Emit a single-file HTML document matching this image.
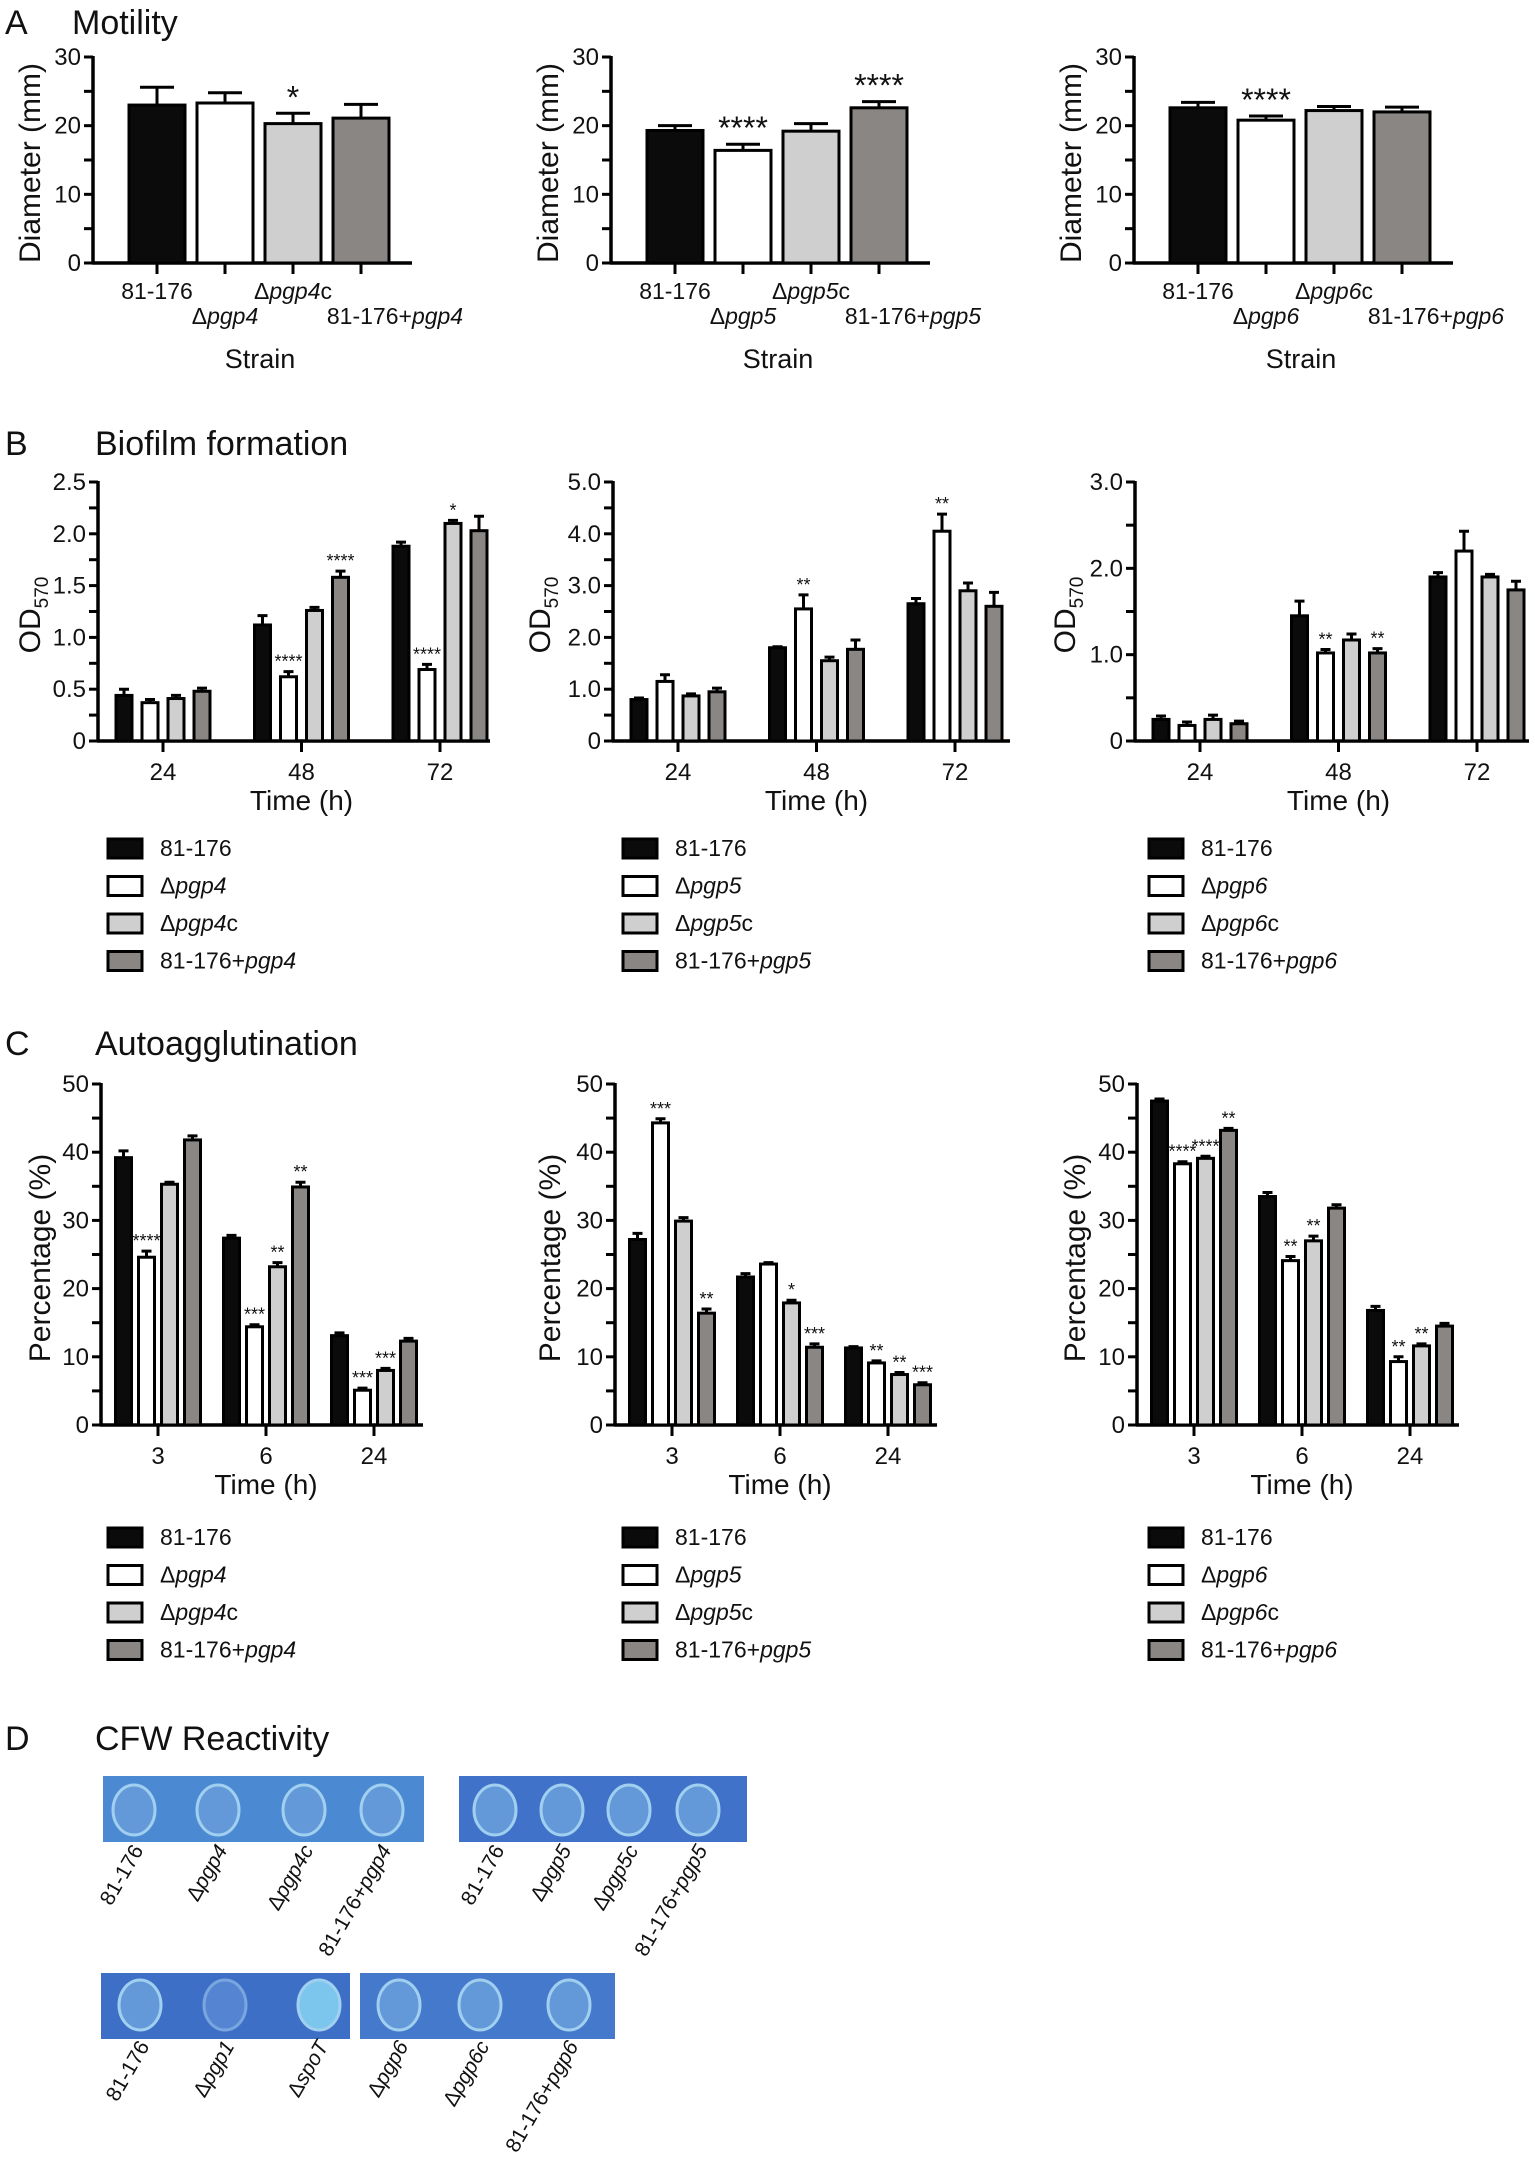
<!DOCTYPE html>
<html><head><meta charset="utf-8"><style>
html,body{margin:0;padding:0;background:#fff;}
svg{display:block;font-family:"Liberation Sans",Arial,sans-serif;}
</style></head><body>
<svg id="fig" width="1535" height="2157" viewBox="0 0 1535 2157" xmlns="http://www.w3.org/2000/svg">
<g>
  <rect x="103" y="1776" width="321" height="66" fill="#4b8ad3"/>
  <rect x="459" y="1776" width="288" height="66" fill="#3f72c8"/>
  <rect x="101" y="1973" width="249" height="66" fill="#3e6fc6"/>
  <rect x="360" y="1973" width="255" height="66" fill="#4579cb"/>
</g>
</svg>
<script>
// ---------- data ----------
const strain4 = ['81-176','Δ*pgp4*','Δ*pgp4*c','81-176+*pgp4*'];
const strain5 = ['81-176','Δ*pgp5*','Δ*pgp5*c','81-176+*pgp5*'];
const strain6 = ['81-176','Δ*pgp6*','Δ*pgp6*c','81-176+*pgp6*'];

const motility4Values = [23.0, 23.3, 20.3, 21.1];
const motility4Errors = [2.6, 1.5, 1.5, 2.0];
const motility4Sig = ['', '', '*', ''];
const motility5Values = [19.3, 16.4, 19.2, 22.6];
const motility5Errors = [0.7, 0.9, 1.1, 0.9];
const motility5Sig = ['', '****', '', '****'];
const motility6Values = [22.6, 20.8, 22.2, 22.0];
const motility6Errors = [0.8, 0.6, 0.6, 0.7];
const motility6Sig = ['', '****', '', ''];

const biofilmTimes = ['24','48','72'];
const biofilm4Values = [[0.44,0.37,0.41,0.48],[1.12,0.62,1.26,1.58],[1.88,0.69,2.10,2.03]];
const biofilm4Errors = [[0.06,0.03,0.03,0.03],[0.09,0.05,0.03,0.06],[0.04,0.05,0.03,0.14]];
const biofilm4Sig = [['','','',''],['','****','','****'],['','****','*','']];
const biofilm5Values = [[0.80,1.15,0.87,0.95],[1.80,2.55,1.55,1.77],[2.65,4.05,2.90,2.60]];
const biofilm5Errors = [[0.03,0.13,0.04,0.07],[0.02,0.27,0.07,0.18],[0.10,0.33,0.15,0.27]];
const biofilm5Sig = [['','','',''],['','**','',''],['','**','','']];
const biofilm6Values = [[0.25,0.18,0.25,0.20],[1.45,1.02,1.17,1.02],[1.90,2.20,1.90,1.75]];
const biofilm6Errors = [[0.04,0.04,0.05,0.03],[0.17,0.04,0.07,0.05],[0.05,0.23,0.03,0.10]];
const biofilm6Sig = [['','','',''],['','**','','**'],['','','','']];

const autoTimes = ['3','6','24'];
const auto4Values = [[39.2,24.6,35.3,41.8],[27.4,14.4,23.2,34.9],[13.1,5.1,8.0,12.3]];
const auto4Errors = [[1.0,0.9,0.3,0.6],[0.4,0.3,0.6,0.7],[0.4,0.3,0.3,0.4]];
const auto4Sig = [['','****','',''],['','***','**','**'],['','***','***','']];
const auto5Values = [[27.2,44.3,29.9,16.4],[21.7,23.6,17.9,11.4],[11.3,9.1,7.4,5.9]];
const auto5Errors = [[0.9,0.6,0.5,0.6],[0.5,0.2,0.4,0.5],[0.2,0.3,0.3,0.3]];
const auto5Sig = [['','***','','**'],['','','*','***'],['','**','**','***']];
const auto6Values = [[47.5,38.3,39.1,43.2],[33.5,24.1,27.0,31.8],[16.8,9.3,11.6,14.5]];
const auto6Errors = [[0.3,0.3,0.3,0.3],[0.6,0.6,0.7,0.5],[0.6,0.7,0.3,0.4]];
const auto6Sig = [['','****','****','**'],['','**','**',''],['','**','**','']];

const ticksA = ['0','10','20','30'];
const ticksB4 = ['0','0.5','1.0','1.5','2.0','2.5'];
const ticksB5 = ['0','1.0','2.0','3.0','4.0','5.0'];
const ticksB6 = ['0','1.0','2.0','3.0'];
const ticksC = ['0','10','20','30','40','50'];

// ---------- helpers ----------
const NS='http://www.w3.org/2000/svg';
const svg=document.getElementById('fig');
const FILLS=['#0b0b0b','#ffffff','#cfcfcf','#8a8683'];
function el(tag,attrs,parent){const e=document.createElementNS(NS,tag);for(const k in attrs)e.setAttribute(k,attrs[k]);(parent||svg).appendChild(e);return e;}
function richText(str,attrs,parent){
  const t=el('text',attrs,parent);
  str.split('*').forEach((s,i)=>{if(!s)return;const ts=document.createElementNS(NS,'tspan');if(i%2)ts.setAttribute('font-style','italic');ts.textContent=s;t.appendChild(ts);});
  return t;
}
function plainText(str,attrs,parent){const t=el('text',attrs,parent);t.textContent=str;return t;}

function yAxis(g,ax,y0,yTop,max,ticks,minorStep,fs){
  const ys=v=>y0-(v/max)*(y0-yTop);
  const line=el('line',{x1:ax,y1:y0+1.5,x2:ax,y2:yTop-1,stroke:'#000','stroke-width':3.5},g);
  
  
  for(let v=0;v<=max+1e-9;v+=minorStep){
    const tk=el('line',{x1:ax-9,y1:ys(v),x2:ax,y2:ys(v),stroke:'#000','stroke-width':3},g);
    
    
  }
  ticks.forEach(s=>{
    const lb=plainText(s,{x:ax-12,y:ys(parseFloat(s))+8,'text-anchor':'end','font-size':fs,fill:'#111'},g);
    
    
  });
  return ys;
}
function yTitle(g,cx,cy,str,sub){
  const t=el('text',{transform:`translate(${cx+11},${cy}) rotate(-90)`,'text-anchor':'middle','font-size':30,fill:'#111'},g);
  
  
  const a=document.createElementNS(NS,'tspan');a.textContent=str;t.appendChild(a);
  if(sub){const b=document.createElementNS(NS,'tspan');b.setAttribute('font-size',19);b.setAttribute('dy',8);b.textContent=sub;t.appendChild(b);}
}
function bar(g,x,w,ys,v,err,fill,sig,sfs,capW,sigOff){
  const r=el('rect',{x:x,y:ys(v),width:w,height:ys(0)-ys(v),fill:fill,stroke:'#000','stroke-width':3},g);
  
  
  const cx=x+w/2, top=ys(v+err);
  const eb=el('path',{d:`M${cx},${ys(v)} V${top} M${cx-capW/2},${top} H${cx+capW/2}`,stroke:'#000','stroke-width':3,fill:'none'},g);
  
  
  if(sig){
    const s=plainText(sig,{x:cx,y:top-sigOff,'text-anchor':'middle','font-size':sfs,fill:'#111'},g);
    
    
  }
}

// ---------- panel A ----------
function motility(ax,vals,errs,sigs,labels,name){
  const g=el('g',{});
  
  
  const ys=yAxis(g,ax,263,57,30,ticksA,5,24);
  const xl=el('line',{x1:ax-1,y1:263,x2:ax+319,y2:263,stroke:'#000','stroke-width':3.5},g);
  
  
  vals.forEach((v,i)=>{
    const x=ax+36+i*68;
    bar(g,x,56,ys,v,errs[i],FILLS[i],sigs[i],32,34,5);
    const tk=el('line',{x1:x+28,y1:263,x2:x+28,y2:274,stroke:'#000','stroke-width':3},g);
    
    
    const cx=(i===3)?x+28+34:x+28;
    const lb=richText(labels[i],{x:cx,y:i%2?324:299,'text-anchor':'middle','font-size':23,fill:'#111'},g);
    
    
  });
  const st=plainText('Strain',{x:ax+167,y:368,'text-anchor':'middle','font-size':27,fill:'#111'},g);
  
  
  yTitle(g,ax-64,163,'Diameter (mm)');
}
motility(93,motility4Values,motility4Errors,motility4Sig,strain4,'motility-pgp4-chart');
motility(611,motility5Values,motility5Errors,motility5Sig,strain5,'motility-pgp5-chart');
motility(1134,motility6Values,motility6Errors,motility6Sig,strain6,'motility-pgp6-chart');

// ---------- grouped charts ----------
function grouped(o){
  const g=el('g',{});
  
  
  const ys=yAxis(g,o.ax,o.y0,o.yTop,o.max,o.ticks,o.minor,24);
  const xl=el('line',{x1:o.ax-1,y1:o.y0,x2:o.ax+o.len,y2:o.y0,stroke:'#000','stroke-width':3.5},g);
  
  
  o.cats.forEach((c,gi)=>{
    const gc=o.ax+o.first+gi*o.gap;
    o.vals[gi].forEach((v,si)=>{
      const x=gc+(si-1.5)*o.pitch-o.bw/2;
      bar(g,x,o.bw,ys,v,o.errs[gi][si],FILLS[si],o.sigs[gi][si],18,10,4);
    });
    const tk=el('line',{x1:gc,y1:o.y0,x2:gc,y2:o.y0+11,stroke:'#000','stroke-width':3},g);
    
    
    const lb=plainText(c,{x:gc,y:o.y0+39,'text-anchor':'middle','font-size':24,fill:'#111'},g);
    
    
  });
  const tt=plainText('Time (h)',{x:o.ax+o.first+o.gap,y:o.y0+69,'text-anchor':'middle','font-size':28,fill:'#111'},g);
  
  
  yTitle(g,o.tx,o.ty,o.title,o.sub);
  o.labels.forEach((s,i)=>{
    const cy=o.ly+i*37.5;
    const sq=el('rect',{x:o.lx,y:cy-9,width:34,height:19,fill:FILLS[i],stroke:'#000','stroke-width':3},g);
    
    
    const t=richText(s,{x:o.lx+52,y:cy+8,'font-size':23,fill:'#111'},g);
    
    
  });
}
const bBase={y0:741,yTop:482,cats:biofilmTimes,first:65,gap:138.5,pitch:26,bw:16,title:'OD',sub:'570',ty:615,ly:848};
grouped(Object.assign({},bBase,{name:'biofilm-pgp4-chart',ax:98,len:392,max:2.5,ticks:ticksB4,minor:0.25,vals:biofilm4Values,errs:biofilm4Errors,sigs:biofilm4Sig,tx:29,lx:108,labels:strain4}));
grouped(Object.assign({},bBase,{name:'biofilm-pgp5-chart',ax:613,len:397,max:5,ticks:ticksB5,minor:0.5,vals:biofilm5Values,errs:biofilm5Errors,sigs:biofilm5Sig,tx:539,lx:623,labels:strain5}));
grouped(Object.assign({},bBase,{name:'biofilm-pgp6-chart',ax:1135,len:394,max:3,ticks:ticksB6,minor:0.5,vals:biofilm6Values,errs:biofilm6Errors,sigs:biofilm6Sig,tx:1064,lx:1149,labels:strain6}));

const cBase={y0:1425,yTop:1084,cats:autoTimes,first:57,gap:108,pitch:23,bw:16,title:'Percentage (%)',sub:'',ty:1258,ly:1537,max:50,ticks:ticksC,minor:5,len:322};
grouped(Object.assign({},cBase,{name:'autoagglutination-pgp4-chart',ax:101,vals:auto4Values,errs:auto4Errors,sigs:auto4Sig,tx:39,lx:108,labels:strain4}));
grouped(Object.assign({},cBase,{name:'autoagglutination-pgp5-chart',ax:615,vals:auto5Values,errs:auto5Errors,sigs:auto5Sig,tx:549,lx:623,labels:strain5}));
grouped(Object.assign({},cBase,{name:'autoagglutination-pgp6-chart',ax:1137,vals:auto6Values,errs:auto6Errors,sigs:auto6Sig,tx:1074,lx:1149,labels:strain6}));

// ---------- panel titles ----------
[['A','Motility',34],['B','Biofilm formation',455],['C','Autoagglutination',1055],['D','CFW Reactivity',1750]].forEach(p=>{
  const a=plainText(p[0],{x:5,y:p[2],'font-size':34,fill:'#111'});
  
  
  const b=plainText(p[1],{x:p[0]==='A'?72:95,y:p[2],'font-size':34,fill:'#111'});
  
  
});

// ---------- panel D colonies & labels ----------
const plateRows=[
  {y:1810,ly:1850,spots:[[134,'81-176',0],[218,'Δ*pgp4*',1],[304,'Δ*pgp4c*',0],[382,'81-176+*pgp4*',0],[495,'81-176',0],[562,'Δ*pgp5*',1],[629,'Δ*pgp5c*',1],[698,'81-176+*pgp5*',0]]},
  {y:2005,ly:2046,spots:[[140,'81-176',1],[225,'Δ*pgp1*',2],[319,'Δ*spoT*',3],[399,'Δ*pgp6*',1],[480,'Δ*pgp6c*',1],[569,'81-176+*pgp6*',1]]}
];
plateRows.forEach(r=>r.spots.forEach(s=>{
  const fillc=s[2]===3?'#7cc6ee':(s[2]===2?'#5585d2':'#6399d9');
  const c=el('ellipse',{cx:s[0],cy:r.y,rx:21,ry:25,fill:fillc,stroke:s[2]===2?'#7aa6df':'#a0cff0','stroke-width':3});
  
  
  const t=richText(s[1],{transform:`translate(${s[0]+10},${r.ly}) rotate(-60)`,'text-anchor':'end','font-size':21,fill:'#111'});
  
  
}));
</script>
</body></html>
